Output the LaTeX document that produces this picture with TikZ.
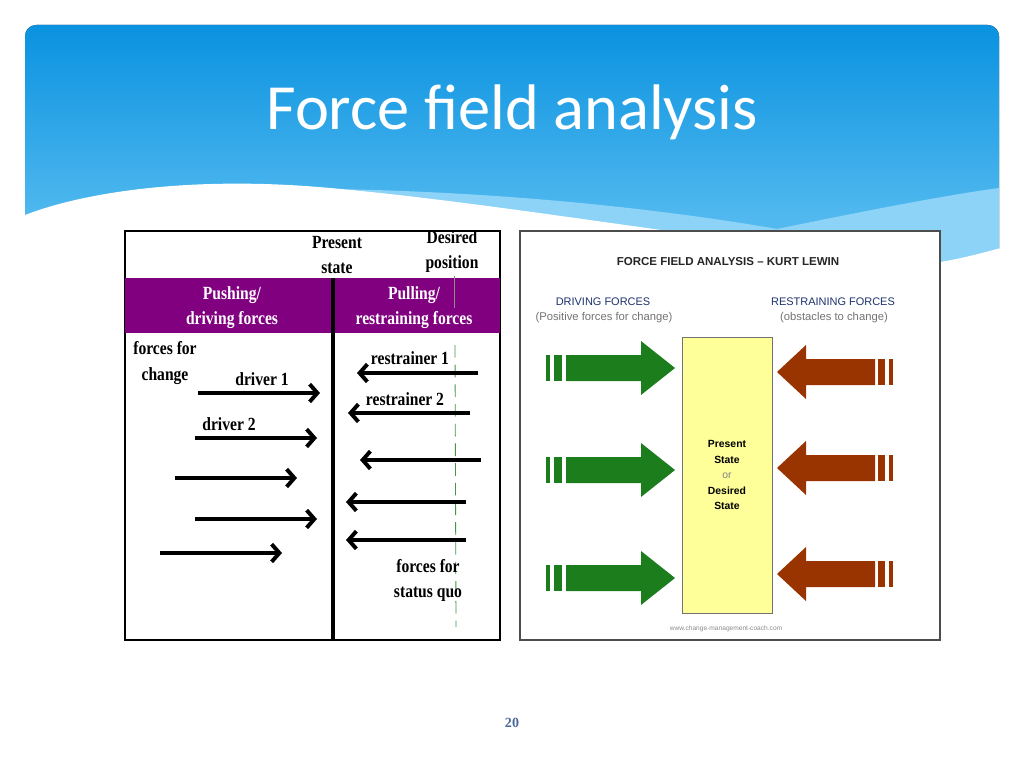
\documentclass[tikz,border=0pt]{standalone}
\usepackage{fontspec}
\setmainfont{Liberation Serif}
\newfontfamily\titlefont{Carlito}
\newfontfamily\condfont[FakeStretch=0.84]{Liberation Serif}
\newfontfamily\arialfont{Liberation Sans}
\usepackage{xcolor}
\usepackage{tikz}
\usetikzlibrary{arrows.meta,positioning,calc}

\definecolor{bannertop}{RGB}{10,146,224}
\definecolor{bannerbot}{RGB}{105,198,244}
\definecolor{bannerlight}{RGB}{140,211,247}
\definecolor{bandpurple}{RGB}{128,0,128}
\definecolor{quogreen}{RGB}{70,150,70}
\definecolor{pushgreen}{RGB}{28,125,28}
\definecolor{pullbrown}{RGB}{153,51,0}
\definecolor{statefill}{RGB}{255,255,153}
\definecolor{navytext}{RGB}{30,50,110}
\definecolor{pagenum}{RGB}{75,105,155}

\begin{document}
\begin{tikzpicture}[
    x=0.025cm, y=-0.025cm,
    lbl/.style={inner sep=0pt, align=center, font=\condfont\bfseries\fontsize{13.2}{17.8}\selectfont},
    bandlbl/.style={lbl, text=white},
    push/.style={line width=2.8pt, -{Straight Barb[length=5.5pt,width=12.5pt]}},
    caps/.style={inner sep=0pt, anchor=base, font=\arialfont\fontsize{7.8}{12}\selectfont, text=navytext},
    note/.style={inner sep=0pt, anchor=base, font=\arialfont\fontsize{8}{12}\selectfont, text=black!55},
    statebox/.style={rectangle, draw=black!55, fill=statefill, minimum width=2.25cm, minimum height=6.9cm, align=center, font=\arialfont\bfseries\fontsize{7.4}{11}\selectfont},
    pushfill/.style={fill=pushgreen},
    pullfill/.style={fill=pullbrown}
]
    % slide background and banner
    \fill[white] (0,0) rectangle (1024,768);
    \useasboundingbox (0,0) rectangle (1024,768);
    \fill[top color=bannertop, bottom color=bannerbot, rounded corners=8pt] (25,25) rectangle (999,285);
    \fill[bannerlight] (330,189) .. controls (520,192) and (680,212) .. (777,229) .. controls (860,212) and (940,196) .. (999,188) -- (999,280) -- (330,280) -- cycle;
    \fill[white] (25,215) .. controls (90,190) and (200,176) .. (330,188) .. controls (520,205) and (760,250) .. (940,262) .. controls (965,258) and (985,252) .. (1001,248) -- (1001,330) -- (23,330) -- cycle;
    \node[inner sep=0pt, anchor=base, text=white, font=\titlefont\fontsize{45.8}{50}\selectfont] (title) at (512,130) {Force field analysis};

    % left panel
    \draw[line width=0.8pt, fill=white] (125,231) rectangle (500,640);
    \fill[bandpurple] (125,278) rectangle (500,333);
    \coordinate (axtop) at (333,278);
    \coordinate (axbot) at (333,640);
    \draw[line width=2.8pt] (axtop) -- (axbot);
    \coordinate (goaltop) at (454,276);
    \coordinate (goalmid) at (454,308);
    \coordinate (goalquo) at (455,345);
    \coordinate (goalbot) at (456,627);
    \draw[black!45, line width=0.6pt] (goaltop) -- (goalmid);
    \draw[quogreen, line width=0.6pt, dash pattern=on 9pt off 5pt] (goalquo) -- (goalbot);

    \node[lbl] (present) at (337,255) {Present\\state};
    \node[lbl] (desired) at (452,252) {Desired\\position};
    \node[bandlbl] (pushing) at (232,308) {Pushing/\\driving forces};
    \node[bandlbl] (pulling) at (414,308) {Pulling/\\restraining forces};
    \node[lbl] (change) at (165,363) {forces for\\change};
    \node[lbl, anchor=base] (driver1) at (262,385) {driver 1};
    \node[lbl, anchor=base] (driver2) at (229,430) {driver 2};
    \node[lbl, anchor=base] (restr1) at (410,364) {restrainer 1};
    \node[lbl, anchor=base] (restr2) at (405,405) {restrainer 2};
    \node[lbl] (quo) at (428,580) {forces for\\status quo};

    % driving and restraining arrows
    \foreach \i/\xa/\xb/\y in {1/198/320/393, 2/195/317/438, 3/175/297/478, 4/195/317/519, 5/160/282/553} {
        \coordinate (d\i s) at (\xa,\y);
        \coordinate (d\i e) at (\xb,\y);
        \draw[push] (d\i s) -- (d\i e);
    }
    \foreach \i/\xa/\xb/\y in {1/478/357/373, 2/470/348/413, 3/481/360/460, 4/466/346/502, 5/466/346/540} {
        \coordinate (r\i s) at (\xa,\y);
        \coordinate (r\i e) at (\xb,\y);
        \draw[push] (r\i s) -- (r\i e);
    }

    % right panel
    \draw[black!70, line width=0.8pt, fill=white] (520,231) rectangle (940,640);
    \node[inner sep=0pt, anchor=base, font=\arialfont\bfseries\fontsize{8.2}{10}\selectfont, text=black!85] (lewin) at (728,265) {FORCE FIELD ANALYSIS – KURT LEWIN};
    \node[caps] (driving) at (603,305) {DRIVING FORCES};
    \node[note] (positive) at (604,320) {(Positive forces for change)};
    \node[caps] (restraining) at (833,305) {RESTRAINING FORCES};
    \node[note] (obstacles) at (834,320) {(obstacles to change)};
    \node[statebox] (state) at (727,475) {Present\\State\\{\mdseries\color{black!50}or}\\Desired\\State};
    \node[inner sep=0pt, anchor=base, font=\arialfont\fontsize{4.7}{6}\selectfont, text=black!45] (url) at (726,630) {www.change-management-coach.com};

    % block arrows
    \foreach \y in {368,470,578} {
        \fill[pushfill] (546,\y-13) rectangle (550,\y+13);
        \fill[pushfill] (554,\y-13) rectangle (562,\y+13);
        \fill[pushfill] (566,\y-13) -- (641,\y-13) -- (641,\y-27) -- (675,\y) -- (641,\y+27) -- (641,\y+13) -- (566,\y+13) -- cycle;
    }
    \foreach \y in {372,468,574} {
        \fill[pullfill] (893,\y-13) rectangle (889,\y+13);
        \fill[pullfill] (885,\y-13) rectangle (878,\y+13);
        \fill[pullfill] (875,\y-13) -- (806,\y-13) -- (806,\y-27) -- (777,\y) -- (806,\y+27) -- (806,\y+13) -- (875,\y+13) -- cycle;
    }

    % page number
    \node[inner sep=0pt, anchor=base, text=pagenum, font=\bfseries\fontsize{10}{12}\selectfont] (page) at (512,727) {20};
\end{tikzpicture}
\end{document}
